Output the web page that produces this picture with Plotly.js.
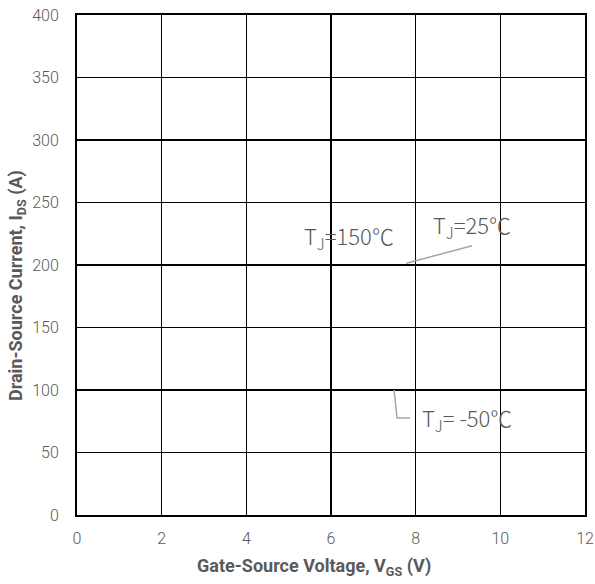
<!DOCTYPE html>
<html>
<head>
<meta charset="utf-8">
<script src="https://cdn.plot.ly/plotly-3.0.1.min.js"></script>
<style>html,body{margin:0;padding:0;background:#fff;}#chart{width:595px;height:584px;}</style>
</head>
<body>
<div id="chart"></div>
<script>
var xTicks = [0, 2, 4, 6, 8, 10, 12];
var yTicks = [0, 50, 100, 150, 200, 250, 300, 350, 400];
var xTitle = "Gate-Source Voltage, V<sub>GS</sub> (V)";
var yTitle = "Drain-Source Current, I<sub>DS</sub> (A)";
var labelTexts = ["T<sub>J</sub>=150℃", "T<sub>J</sub>=25℃", "T<sub>J</sub>= -50℃"];
var labelX = [6.43, 9.33, 9.21];
var labelY = [223, 232, 77.6];
var leader25X = [7.78, 9.33];
var leader25Y = [201.4, 215.4];
var leaderM50X = [7.49, 7.56, 7.87];
var leaderM50Y = [100, 77.6, 77.6];

var tickFont = {family: "Roboto, 'Noto Sans CJK SC', sans-serif", size: 16, color: "#595959", weight: 300};
var titleFont = {family: "Roboto, 'Noto Sans', sans-serif", size: 18, color: "#595959", weight: "bold"};

var traces = [
  {x: leader25X, y: leader25Y, mode: "lines", line: {color: "#a6a6a6", width: 1.5}, hoverinfo: "skip", showlegend: false},
  {x: leaderM50X, y: leaderM50Y, mode: "lines", line: {color: "#a6a6a6", width: 1.5}, hoverinfo: "skip", showlegend: false}
];

var annotations = labelTexts.map(function (t, i) {
  return {x: labelX[i], y: labelY[i], xref: "x", yref: "y", text: t, showarrow: false,
    font: {family: "'Noto Sans CJK SC', sans-serif", size: 22, color: "#595959", weight: 300}};
});
annotations.push({x: 0.4665, y: -0.104, xref: "paper", yref: "paper", text: xTitle, showarrow: false,
  xanchor: "center", yanchor: "middle", font: titleFont});
annotations.push({x: -0.118, y: 0.458, xref: "paper", yref: "paper", text: yTitle, showarrow: false,
  textangle: -90, xanchor: "center", yanchor: "middle", font: titleFont});

var layout = {
  width: 595, height: 584,
  margin: {l: 77, r: 10, t: 15, b: 69},
  paper_bgcolor: "#fff", plot_bgcolor: "#fff",
  showlegend: false,
  xaxis: {
    range: [0, 12], tickvals: xTicks, ticktext: xTicks.map(String),
    showgrid: true, gridcolor: "#000", gridwidth: 1.6,
    showline: true, linecolor: "#000", linewidth: 2, mirror: true,
    zeroline: false, ticks: "", ticklen: 0, tickfont: tickFont, ticklabelstandoff: 8
  },
  yaxis: {
    range: [0, 400], tickvals: yTicks, ticktext: yTicks.map(String),
    showgrid: true, gridcolor: "#000", gridwidth: 1.6,
    showline: true, linecolor: "#000", linewidth: 2, mirror: true,
    zeroline: false, ticks: "", tickfont: tickFont, ticklabelstandoff: 13
  },
  annotations: annotations
};

Plotly.newPlot("chart", traces, layout, {displayModeBar: false, staticPlot: true});
</script>
</body>
</html>
